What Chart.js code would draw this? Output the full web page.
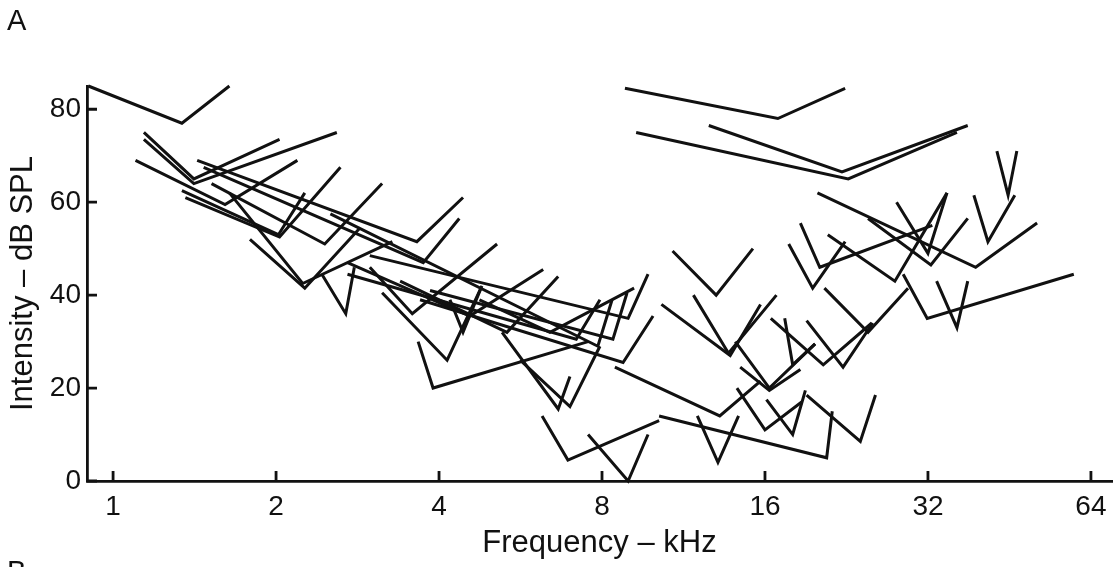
<!DOCTYPE html>
<html>
<head>
<meta charset="utf-8">
<script src="https://cdn.jsdelivr.net/npm/chart.js@4.4.1/dist/chart.umd.min.js"></script>
<style>
  html, body { margin: 0; padding: 0; background: #fff; }
  #wrap { width: 1116px; height: 567px; }
</style>
</head>
<body>
<div id="wrap"><canvas id="tuning" width="1116" height="567"></canvas></div>
<script>
// Tuning curve tips, one entry per curve: left arm end, tip, right arm end
const freqLeft  = [0.90, 1.14, 1.14, 1.10, 1.43, 1.47, 1.52, 1.34, 1.36, 1.64, 1.79, 2.43, 2.98, 3.14, 3.66, 2.71, 3.39, 4.19,
                   5.23, 6.20, 7.54, 2.98, 3.85, 3.69, 4.75, 5.65, 8.45, 10.8, 11.8, 10.3, 12.0, 10.2, 14.1, 14.4, 16.4, 17.4,
                   19.1, 14.2, 16.1, 19.1, 17.7, 20.9, 20.6, 18.6, 24.8, 28.0, 20.0, 28.8, 33.2, 38.9, 42.9, 8.82, 12.6, 9.25,
                   2.52, 2.71];
const dbLeft    = [85, 75, 73.5, 69, 69, 67.5, 64, 62.5, 61, 62, 52, 44.5, 46, 40.5, 30, 47, 43, 39,
                   32, 14, 10, 48.5, 41, 39, 39, 26, 24.5, 49.5, 40, 38, 14, 14, 30, 24.5, 35, 35,
                   34.5, 20, 17.5, 18.5, 51, 53, 41.5, 55.5, 56.5, 60, 62, 44.5, 43, 61.5, 71, 84.5, 76.5, 75,
                   57.5, 44.5];
const freqTip   = [1.34, 1.41, 1.41, 1.61, 3.64, 3.74, 2.46, 2.02, 2.03, 2.24, 2.26, 2.69, 3.57, 4.14, 3.90, 4.56, 5.34, 4.43,
                   6.64, 6.92, 8.94, 8.94, 8.38, 8.75, 6.41, 6.98, 13.2, 13.0, 13.7, 13.8, 13.1, 20.8, 16.3, 16.3, 20.5, 18.0,
                   22.3, 16.0, 18.0, 24.0, 19.6, 27.8, 24.8, 20.2, 32.4, 32.0, 39.2, 31.9, 36.2, 41.3, 45.0, 16.9, 22.2, 22.8,
                   7.86, 7.17];
const dbTip     = [77, 65, 64, 59.5, 51.5, 47, 51, 53, 52.5, 42.5, 41.5, 36, 36, 26, 20, 35.5, 32, 32,
                   15.5, 4.5, 0, 35, 30.5, 25.5, 32, 16, 14, 40, 27.5, 27, 4, 5, 20, 19.5, 25, 25,
                   24.5, 11, 10, 8.5, 41.5, 43, 32, 46, 46.5, 49, 46, 35, 33, 51.5, 61.5, 78, 66.5, 65,
                   29, 30.5];
const freqRight = [1.64, 2.03, 2.59, 2.19, 4.43, 4.36, 3.14, 2.26, 2.63, 3.28, 2.86, 2.79, 5.12, 4.78, 7.54, 6.23, 6.64, 4.80,
                   6.98, 10.2, 9.73, 9.73, 8.90, 9.94, 9.17, 7.93, 15.7, 15.2, 16.8, 15.7, 14.3, 21.3, 19.8, 18.6, 25.2, 19.8,
                   25.3, 18.7, 19.0, 25.6, 22.5, 34.7, 29.4, 32.6, 37.9, 34.7, 50.9, 59.5, 37.9, 46.3, 46.7, 22.5, 37.9, 36.2,
                   8.35, 7.93];
const dbRight   = [85, 73.5, 75, 69, 61, 56.5, 64, 62, 67.5, 51.5, 54.5, 46, 51, 41.5, 30, 45.5, 44, 42,
                   22.5, 13, 10, 44.5, 40.5, 35.5, 41.5, 29, 21.5, 50, 40, 38, 14, 15, 29.5, 24, 34, 29.5,
                   34, 17, 19.5, 18.5, 51.5, 62, 41.5, 55, 56.5, 62, 55.5, 44.5, 43, 61.5, 71, 84.5, 76.5, 75,
                   39, 39];

const xTicks = [1, 2, 4, 8, 16, 32, 64];
const yTicks = [0, 20, 40, 60, 80];

const ink = '#111';
const family = "'Liberation Sans', Arial, Helvetica, sans-serif";

const datasets = freqTip.map((f, i) => ({
    data: [
        { x: freqLeft[i], y: dbLeft[i] },
        { x: f, y: dbTip[i] },
        { x: freqRight[i], y: dbRight[i] }
    ],
    showLine: true,
    borderColor: ink,
    borderWidth: 3,
    borderJoinStyle: 'miter',
    pointRadius: 0,
    fill: false,
    clip: false
}));

// inward tick marks and the panel letters
const extras = {
    id: 'extras',
    afterDraw(chart) {
        const { ctx, chartArea, scales } = chart;
        ctx.save();
        ctx.strokeStyle = ink;
        ctx.lineWidth = 2.8;
        ctx.beginPath();
        xTicks.forEach(v => {
            const px = scales.x.getPixelForValue(v);
            ctx.moveTo(px, chartArea.bottom);
            ctx.lineTo(px, chartArea.bottom - 10);
        });
        yTicks.forEach(v => {
            const py = scales.y.getPixelForValue(v);
            ctx.moveTo(chartArea.left, py);
            ctx.lineTo(chartArea.left + 10, py);
        });
        ctx.stroke();

        ctx.fillStyle = ink;
        ctx.font = '29px ' + family;
        ctx.textBaseline = 'alphabetic';
        ctx.fillText('A', 7, 30);
        ctx.fillText('B', 7, 581);
        ctx.restore();
    }
};

new Chart(document.getElementById('tuning'), {
    type: 'scatter',
    data: { datasets: datasets },
    plugins: [extras],
    options: {
        responsive: false,
        animation: false,
        devicePixelRatio: 1,
        layout: { padding: { left: 0, top: 86, right: 4, bottom: 0 } },
        plugins: {
            legend: { display: false },
            tooltip: { enabled: false }
        },
        scales: {
            x: {
                type: 'logarithmic',
                min: 0.895,
                max: 70,
                afterBuildTicks: (scale) => { scale.ticks = xTicks.map(v => ({ value: v })); },
                afterFit: (scale) => { scale.height = 86; },
                grid: { display: false, drawTicks: false },
                border: { display: true, color: ink, width: 2.8 },
                ticks: {
                    color: ink,
                    font: { family: family, size: 28 },
                    padding: 9,
                    autoSkip: false,
                    maxRotation: 0,
                    callback: (value) => String(value)
                },
                title: {
                    display: true,
                    text: 'Frequency – kHz',
                    color: ink,
                    font: { family: family, size: 31 },
                    padding: { top: 0, bottom: 5 }
                }
            },
            y: {
                min: 0,
                max: 85,
                afterBuildTicks: (scale) => { scale.ticks = yTicks.map(v => ({ value: v })); },
                afterFit: (scale) => { scale.width = 87; },
                grid: { display: false, drawTicks: false },
                border: { display: true, color: ink, width: 2.8 },
                ticks: {
                    color: ink,
                    font: { family: family, size: 28 },
                    padding: 6
                },
                title: {
                    display: true,
                    text: 'Intensity – dB SPL',
                    color: ink,
                    font: { family: family, size: 31 },
                    padding: { top: 5, bottom: 0 }
                }
            }
        }
    }
});
</script>
</body>
</html>
